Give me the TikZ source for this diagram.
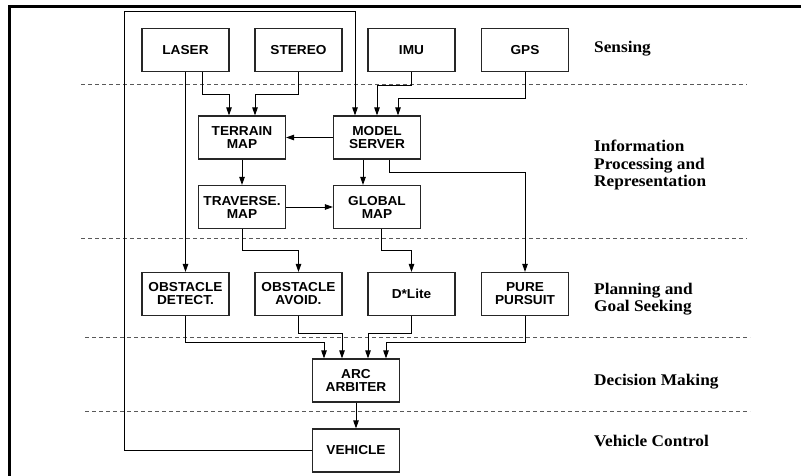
\documentclass[tikz,border=0pt]{standalone}
\usepackage{fontspec}
\setmainfont{Liberation Serif}[FakeStretch=1.06]
\setsansfont{Liberation Sans}[FakeStretch=1.05]
\usetikzlibrary{arrows.meta}
\begin{document}
\begin{tikzpicture}[x=1pt,y=-1pt,
 box/.style={draw=black!85, line width=1.2pt, minimum width=87pt, minimum height=43pt, inner sep=0pt, align=center, font=\sffamily\bfseries\fontsize{13}{13}\selectfont},
 arr/.style={line width=0.9pt, -{Triangle[length=8pt,width=5.5pt]}},
 sep/.style={dash pattern=on 4pt off 3pt, draw=black!65, line width=1pt},
 lab/.style={anchor=north west, inner sep=0pt, align=left, font=\rmfamily\bfseries\fontsize{16.3}{17.5}\selectfont}]
\useasboundingbox (0,0) rectangle (801,476);
% frame
\draw[line width=3pt] (9.5,476) -- (9.5,6.5) -- (801,6.5);
% separators
\draw[sep] (81,85) -- (747,85);
\draw[sep] (81,238.5) -- (747,238.5);
\draw[sep] (85,337.7) -- (750,337.7);
\draw[sep] (85,411.7) -- (750,411.7);
% boxes
\node[box] (LASER) at (185.5,50) {LASER};
\node[box] (STEREO) at (298.5,50) {STEREO};
\node[box] (IMU) at (411.5,50) {IMU};
\node[box] (GPS) at (525,50) {GPS};
\node[box] (TERRAIN) at (242,137.5) {TERRAIN\\MAP};
\node[box] (MODEL) at (377,137.5) {MODEL\\SERVER};
\node[box] (TRAV) at (242,207) {TRAVERSE.\\MAP};
\node[box] (GLOBAL) at (377,207) {GLOBAL\\MAP};
\node[box] (DETECT) at (185.5,294) {OBSTACLE\\DETECT.};
\node[box] (AVOID) at (298.5,294) {OBSTACLE\\AVOID.};
\node[box] (DLITE) at (411.5,294) {D*Lite};
\node[box] (PURE) at (525,294) {PURE\\PURSUIT};
\node[box] (ARC) at (356,380.5) {ARC\\ARBITER};
\node[box] (VEH) at (356,450.5) {VEHICLE};
% labels
\node[lab] (l1) at (594,41) {Sensing};
\node[lab] (l2) at (594,140) {Information\\Processing and\\Representation};
\node[lab] (l3) at (594,282.7) {Planning and\\Goal Seeking};
\node[lab] (l4) at (594,374.3) {Decision Making};
\node[lab] (l5) at (594,435.3) {Vehicle Control};
% anchor coordinates
\coordinate (lasB) at ([xshift=17pt]LASER.south);
\coordinate (terA) at ([xshift=-13pt]TERRAIN.north);
\coordinate (terB) at ([xshift=13pt]TERRAIN.north);
\coordinate (modA) at ([xshift=-22pt]MODEL.north);
\coordinate (modC) at ([xshift=21pt]MODEL.north);
\coordinate (modS1) at ([xshift=-14pt]MODEL.south);
\coordinate (gloN) at ([xshift=-14pt]GLOBAL.north);
\coordinate (modS2) at ([xshift=12pt]MODEL.south);
\coordinate (gloS) at ([xshift=4pt]GLOBAL.south);
\coordinate (arcA) at ([xshift=-32pt]ARC.north);
\coordinate (arcB) at ([xshift=-14pt]ARC.north);
\coordinate (arcC) at ([xshift=12pt]ARC.north);
\coordinate (arcD) at ([xshift=30pt]ARC.north);
% connectors
\draw[arr] (LASER.south) -- (DETECT.north);
\draw[arr] (lasB) -- (lasB |- 0,94) -| (terA);
\draw[arr] (STEREO.south) -- (STEREO.south |- 0,94) -| (terB);
\draw[arr] (IMU.south) -- (IMU.south |- 0,85) -| (MODEL.north);
\draw[arr] (GPS.south) -- (GPS.south |- 0,98) -| (modC);
\draw[arr] (VEH.west) -| (124,11.7) -| (modA);
\draw[arr] (MODEL.west) -- (TERRAIN.east);
\draw[arr] (TERRAIN.south) -- (TRAV.north);
\draw[arr] (TRAV.east) -- (GLOBAL.west);
\draw[arr] (modS1) -- (gloN);
\draw[arr] (modS2) -- (modS2 |- 0,172.7) -| (PURE.north);
\draw[arr] (TRAV.south) -- (TRAV.south |- 0,250.7) -| (AVOID.north);
\draw[arr] (gloS) -- (gloS |- 0,250.7) -| (DLITE.north);
\draw[arr] (DETECT.south) -- (DETECT.south |- 0,342.3) -| (arcA);
\draw[arr] (AVOID.south) -- (AVOID.south |- 0,333.3) -| (arcB);
\draw[arr] (DLITE.south) -- (DLITE.south |- 0,333.3) -| (arcC);
\draw[arr] (PURE.south) -- (PURE.south |- 0,342.3) -| (arcD);
\draw[arr] (ARC.south) -- (VEH.north);
\end{tikzpicture}
\end{document}
